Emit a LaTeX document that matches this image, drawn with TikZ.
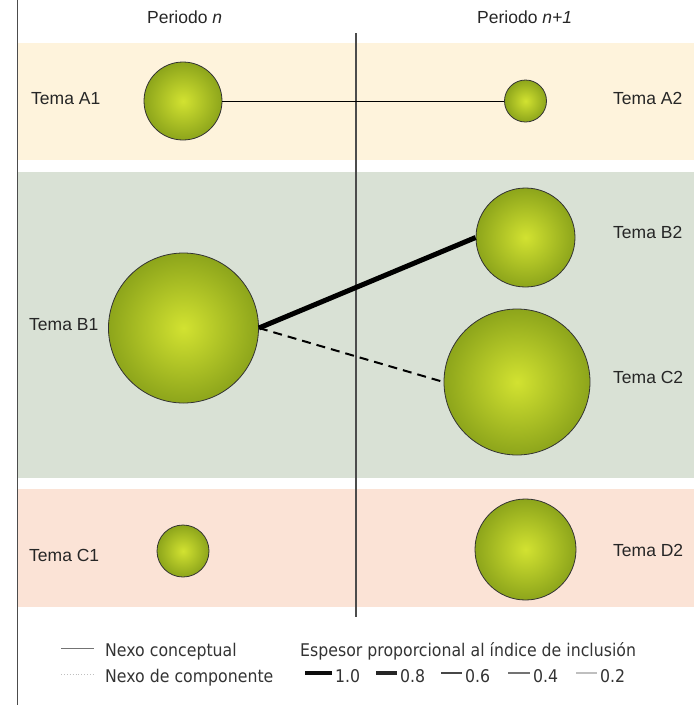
\documentclass[tikz,border=0pt]{standalone}
\usepackage{fontspec}
\setmainfont{Liberation Sans}
\newfontfamily\legfont[FakeStretch=0.9]{DejaVu Sans}
\definecolor{bandA}{HTML}{FEF3DC}
\definecolor{bandB}{HTML}{D9E1D5}
\definecolor{bandC}{HTML}{FBE3D6}
\definecolor{ballin}{HTML}{D2E231}
\definecolor{ballout}{HTML}{8DA51B}
\definecolor{txt}{HTML}{262626}
\definecolor{legtxt}{HTML}{333333}
\begin{document}
\begin{tikzpicture}[x=1pt,y=-1pt,
  ball/.style={circle, draw=black!80, line width=0.8pt, inner sep=0pt, minimum size=#1,
     shading=radial, inner color=ballin, outer color=ballout},
  lbl/.style={anchor=base west, inner sep=0pt, text=txt, font=\fontsize{17.5}{20}\selectfont},
  leg/.style={anchor=base west, inner sep=0pt, text=legtxt, font=\legfont\fontsize{17.5}{20}\selectfont},
  axisline/.style={draw=black!70, line width=1.3pt}
]
\useasboundingbox (0,0) rectangle (694,705);
% bands
\fill[bandA] (17.5,43) rectangle (694,160);
\fill[bandB] (17.5,172) rectangle (694,478);
\fill[bandC] (17.5,489) rectangle (694,607);
% axes
\draw[axisline] (17.5,0) -- (17.5,705);
\draw[axisline] (356,33) -- (356,617);
% headers
\node[lbl] (hn) at (147,23) {Periodo \textit{n}};
\node[lbl] (hn1) at (477,23) {Periodo \textit{n+1}};
% circles
\node[ball=78pt] (A1) at (183,101) {};
\node[ball=42pt] (A2) at (525.5,101) {};
\node[ball=150pt] (B1) at (183.5,328) {};
\node[ball=99pt] (B2) at (525.5,237.5) {};
\node[ball=146pt] (C2) at (517,382) {};
\node[ball=52pt] (C1) at (183,551) {};
\node[ball=101pt] (D2) at (525.5,549.5) {};
% connectors
\draw[black, line width=1pt] (A1.east) -- (A2.west);
\draw[black, line width=5pt] (B1.east) -- (B2.west);
\draw[black, line width=2pt, dash pattern=on 9pt off 6pt] (B1.east) -- (C2.west);
% labels
\node[lbl] (tA1) at (31,104) {Tema A1};
\node[lbl] (tA2) at (613,104) {Tema A2};
\node[lbl] (tB1) at (29,330) {Tema B1};
\node[lbl] (tB2) at (613,238) {Tema B2};
\node[lbl] (tC2) at (613,383) {Tema C2};
\node[lbl] (tC1) at (29,561) {Tema C1};
\node[lbl] (tD2) at (613,556) {Tema D2};
% legend
\coordinate (l1a) at (61,648); \coordinate (l1b) at (94,648);
\coordinate (l2a) at (61,674); \coordinate (l2b) at (94,674);
\draw[black!55, line width=0.9pt] (l1a) -- (l1b);
\draw[black!25, line width=0.9pt, dotted] (l2a) -- (l2b);
\node[leg] (nc) at (105,656) {Nexo conceptual};
\node[leg] (ncomp) at (105,682) {Nexo de componente};
\node[leg] (esp) at (300,656) {Espesor proporcional al índice de inclusión};
\draw[black!95, line width=4pt] (305,673) -- (332,673);
\node[leg] (v10) at (335,682) {1.0};
\draw[black!85, line width=3.2pt] (376,673) -- (397,673);
\node[leg] (v08) at (400,682) {0.8};
\draw[black!72, line width=2.6pt] (441,673) -- (462,673);
\node[leg] (v06) at (465,682) {0.6};
\draw[black!55, line width=2pt] (508,673) -- (530,673);
\node[leg] (v04) at (533,682) {0.4};
\draw[black!25, line width=1.6pt] (576,673) -- (597,673);
\node[leg] (v02) at (600,682) {0.2};
\end{tikzpicture}
\end{document}
